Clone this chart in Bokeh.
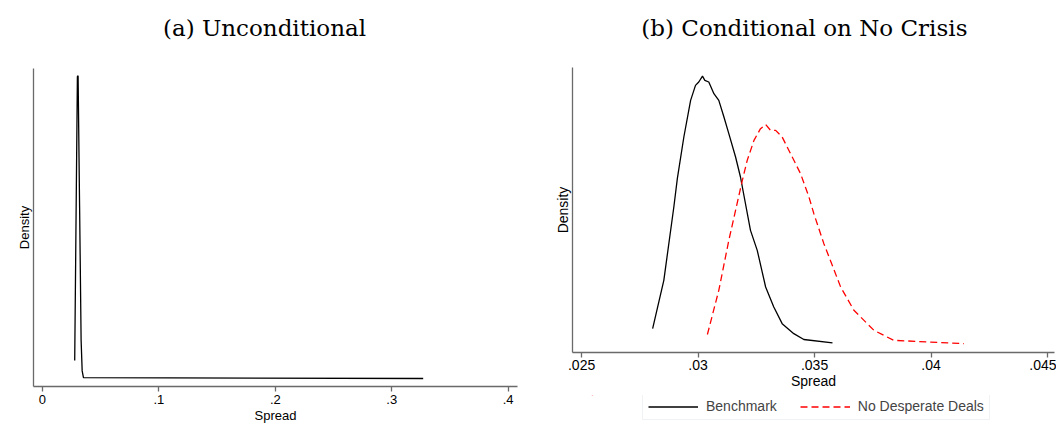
from bokeh.plotting import figure
from bokeh.models import Range1d, FixedTicker, Legend, LegendItem
from bokeh.core.properties import value
from bokeh.layouts import row, column
from bokeh.embed import file_html
from bokeh.resources import INLINE

# Panel (a): unconditional spread density
spread_a = [0.0277, 0.0300, 0.0306, 0.0319, 0.0332, 0.0341, 0.0352, 0.3270]
density_a = [19, 317, 318, 180, 40, 8, 1, 0]

# Panel (b): conditional on no crisis
spread_bench = [0.02805, 0.02853, 0.02896, 0.02911, 0.02939, 0.02968, 0.02989, 0.03003,
                0.03019, 0.03029, 0.03046, 0.03068, 0.03089, 0.03111, 0.03132, 0.03161,
                0.03182, 0.03225, 0.03254, 0.03290, 0.03325, 0.03361, 0.03411, 0.03454, 0.03577]
dens_bench = [19, 77, 165, 199, 249, 293, 311, 315,
              322, 317, 315, 301, 293, 273, 253, 225,
              201, 137, 113, 69, 45, 25, 13, 6, 2]

spread_nodd = [0.03040, 0.03089, 0.03132, 0.03190, 0.03211, 0.03240, 0.03268, 0.03290,
               0.03311, 0.03333, 0.03361, 0.03397, 0.03440, 0.03476, 0.03497, 0.03540,
               0.03612, 0.03669, 0.03755, 0.03840, 0.04141]
dens_nodd = [12, 65, 125, 197, 221, 245, 259, 264,
             257, 257, 249, 229, 205, 177, 157, 121,
             69, 41, 17, 5, 1]

ticks_a = [0, 0.1, 0.2, 0.3, 0.4]
tick_labels_a = ["0", ".1", ".2", ".3", ".4"]
ticks_b = [0.025, 0.03, 0.035, 0.04, 0.045]
tick_labels_b = [".025", ".03", ".035", ".04", ".045"]

title_a = "(a) Unconditional"
title_b = "(b) Conditional on No Crisis"
series_names = ["Benchmark", "No Desperate Deals"]

AX = "#6a6a6a"
SANS = "Liberation Sans"
SERIF = "DejaVu Serif"
W = 528
TITLE_H = 50


def title_fig(text, cx):
    t = figure(width=W, height=TITLE_H, output_backend="svg", toolbar_location=None,
               x_range=Range1d(0, W), y_range=Range1d(0, TITLE_H),
               x_axis_location=None, y_axis_location=None, min_border=0)
    t.xgrid.visible = False
    t.ygrid.visible = False
    t.outline_line_color = None
    t.text(x=[cx], y=[TITLE_H - 27], text=[text], text_align="center", text_baseline="middle",
           text_font=value(SERIF), text_font_size="23px", text_color="black")
    return t


def style(p, ticks, labels, fs, lab_standoff, ax_standoff):
    p.xaxis.ticker = FixedTicker(ticks=ticks)
    p.xaxis.major_label_overrides = {t: l for t, l in zip(ticks, labels)}
    p.xaxis.minor_tick_line_color = None
    p.xaxis.major_tick_in = 0
    p.xaxis.major_tick_out = 5
    p.xaxis.axis_line_color = AX
    p.xaxis.axis_line_width = 1.3
    p.xaxis.major_tick_line_color = AX
    p.xaxis.major_tick_line_width = 1.3
    p.xaxis.major_label_text_font = SANS
    p.xaxis.major_label_text_font_size = fs
    p.xaxis.major_label_text_color = "black"
    p.xaxis.major_label_standoff = lab_standoff
    p.xaxis.axis_label = "Spread"
    p.xaxis.axis_label_text_font = SANS
    p.xaxis.axis_label_text_font_size = fs
    p.xaxis.axis_label_text_font_style = "normal"
    p.xaxis.axis_label_text_color = "black"
    p.xaxis.axis_label_standoff = ax_standoff
    p.yaxis.ticker = []
    p.yaxis.axis_line_color = AX
    p.yaxis.axis_line_width = 1.3
    p.yaxis.axis_label = "Density"
    p.yaxis.axis_label_text_font = SANS
    p.yaxis.axis_label_text_font_size = fs
    p.yaxis.axis_label_text_font_style = "normal"
    p.yaxis.axis_label_text_color = "black"
    p.yaxis.axis_label_standoff = 2
    p.xgrid.visible = False
    p.ygrid.visible = False
    p.outline_line_color = None


ta = title_fig(title_a, 252)
tb = title_fig(title_b, 254)

p1 = figure(width=W, height=380, output_backend="svg", toolbar_location=None,
            x_range=Range1d(-0.0077, 0.408), y_range=Range1d(-8.4, 325.5),
            min_border_left=33, min_border_right=11, min_border_top=18, min_border_bottom=44)
style(p1, ticks_a, tick_labels_a, "13px", 3, 1)
p1.line(spread_a, density_a, line_color="black", line_width=1.3)

p2 = figure(width=W, height=345, output_backend="svg", toolbar_location=None,
            x_range=Range1d(0.02461, 0.0453), y_range=Range1d(-9.6, 332.4),
            min_border_left=44, min_border_right=2, min_border_top=17, min_border_bottom=43)
style(p2, ticks_b, tick_labels_b, "14px", 2, 0)
p2.line(spread_bench, dens_bench, line_color="black", line_width=1.3)
p2.line(spread_nodd, dens_nodd, line_color="#ff0000", line_width=1.3, line_dash="7 4")

# legend strip under panel (b); its lines fall outside the strip's ranges and only feed the legend
lg = figure(width=W, height=35, output_backend="svg", toolbar_location=None,
            x_range=Range1d(0, 1), y_range=Range1d(0, 1),
            x_axis_location=None, y_axis_location=None, min_border=0)
lg.xgrid.visible = False
lg.ygrid.visible = False
lg.outline_line_color = None
k1 = lg.line(spread_bench, dens_bench, line_color="black", line_width=1.3)
k2 = lg.line(spread_nodd, dens_nodd, line_color="#ff0000", line_width=1.3, line_dash="7 4")
legend = Legend(items=[LegendItem(label=series_names[0], renderers=[k1]),
                       LegendItem(label=series_names[1], renderers=[k2])],
                orientation="horizontal", location=(70, 10))
legend.label_text_font = SANS
legend.label_text_font_size = "14px"
legend.glyph_width = 50
legend.glyph_height = 15
legend.label_height = 15
legend.label_standoff = 8
legend.spacing = 23
legend.padding = 5
legend.margin = 0
legend.border_line_color = "#dfe8ee"
legend.border_line_width = 1
lg.add_layout(legend)

layout = row(column(ta, p1), column(tb, p2, lg))
open("out.html", "w").write(file_html(layout, INLINE))
